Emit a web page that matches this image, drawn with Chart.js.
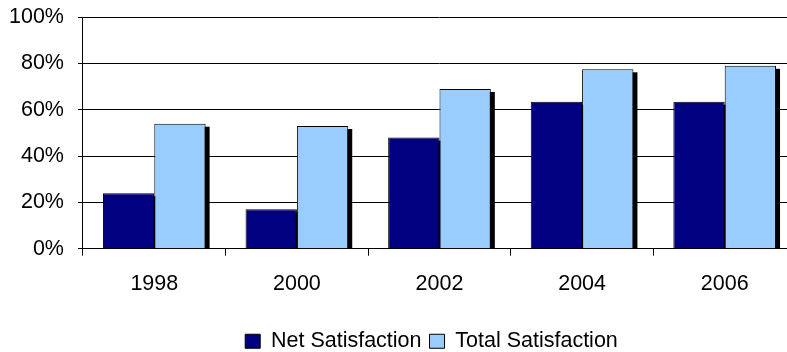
<!DOCTYPE html>
<html>
<head>
<meta charset="utf-8">
<script src="https://cdn.jsdelivr.net/npm/chart.js@4/dist/chart.umd.min.js"></script>
<style>
  html, body { margin: 0; padding: 0; background: #fff; overflow: hidden; }
</style>
</head>
<body>
<canvas id="satisfaction" width="796" height="352"></canvas>
<script>
const years = ['1998', '2000', '2002', '2004', '2006']
const netSatisfaction = [24, 17, 48, 63.5, 63.5]
const totalSatisfaction = [54, 53, 69, 77.5, 79]
const yTicks = [0, 20, 40, 60, 80, 100]

// black drop shadow behind each bar (drawn before the bars themselves)
const barShadow = {
  id: 'barShadow',
  afterLayout(chart) {
    // legend sits a bit right of centre in the original
    chart.legend.left += 36
    chart.legend.right += 36
  },
  beforeDatasetsDraw(chart) {
    const c = chart.ctx
    const area = chart.chartArea
    c.save()
    c.beginPath()
    c.rect(area.left, area.top, area.right - area.left, area.bottom - area.top)
    c.clip()
    c.fillStyle = '#000'
    chart.data.datasets.forEach((ds, i) => {
      chart.getDatasetMeta(i).data.forEach(bar => {
        const { x, y, base, width } = bar.getProps(['x', 'y', 'base', 'width'], true)
        c.fillRect(x - width / 2 + 4, y + 3, width, base - y)
      })
    })
    c.restore()
  }
}

Chart.defaults.font.family = '"Liberation Sans", Arial, sans-serif'
Chart.defaults.font.size = 21.5
Chart.defaults.color = '#000'

new Chart(document.getElementById('satisfaction').getContext('2d'), {
  type: 'bar',
  data: {
    labels: years,
    datasets: [
      {
        label: 'Net Satisfaction',
        data: netSatisfaction,
        backgroundColor: '#000080',
        borderColor: '#000',
        borderWidth: 1
      },
      {
        label: 'Total Satisfaction',
        data: totalSatisfaction,
        backgroundColor: '#99CCFF',
        borderColor: '#000',
        borderWidth: 1
      }
    ]
  },
  options: {
    responsive: false,
    animation: false,
    datasets: { bar: { categoryPercentage: 0.72, barPercentage: 1.0 } },
    layout: { padding: { top: 0, right: 0, left: -5, bottom: -10 } },
    plugins: {
      tooltip: { enabled: false },
      legend: {
        position: 'bottom',
        labels: {
          boxWidth: 15,
          boxHeight: 14,
          padding: 8,
          color: '#000'
        }
      }
    },
    scales: {
      x: {
        grid: { drawOnChartArea: false, offset: true, tickLength: 7, color: '#000' },
        border: { color: '#000' },
        ticks: { padding: 15 },
        afterFit: axis => { axis.height += 11 }
      },
      y: {
        min: 0,
        max: 100,
        afterBuildTicks: axis => { axis.ticks = yTicks.map(v => ({ value: v })) },
        grid: { color: '#000', tickLength: 5 },
        border: { color: '#000' },
        // small lineHeight keeps the top label overflow from pushing the plot down
        ticks: { callback: v => v + '%', padding: 14, font: { lineHeight: 0.3 } }
      }
    }
  },
  plugins: [barShadow]
})
</script>
</body>
</html>
